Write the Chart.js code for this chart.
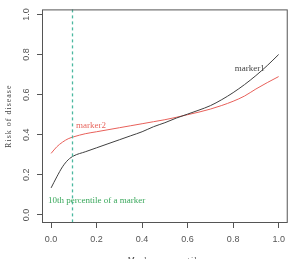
<!DOCTYPE html>
<html>
<head>
<meta charset="utf-8">
<script src="https://cdn.jsdelivr.net/npm/chart.js@4/dist/chart.umd.min.js"></script>
<style>
  body { margin: 0; background: #fff; }
  #wrap { width: 291px; height: 259px; }
</style>
</head>
<body>
<div id="wrap"><canvas id="chart" width="291" height="259"></canvas></div>
<script>
// marker percentile (x) and estimated risk for each marker
var pct = [0, 0.025, 0.05, 0.075, 0.1, 0.15, 0.2, 0.25, 0.3, 0.35, 0.4, 0.45, 0.5,
           0.55, 0.6, 0.65, 0.7, 0.75, 0.8, 0.85, 0.9, 0.95, 1.0];
var marker1 = [0.135, 0.19, 0.24, 0.275, 0.295, 0.315, 0.335, 0.355, 0.375, 0.395, 0.415, 0.44, 0.46,
               0.483, 0.503, 0.523, 0.545, 0.575, 0.61, 0.65, 0.695, 0.745, 0.80];
var marker2 = [0.307, 0.34, 0.363, 0.38, 0.39, 0.405, 0.415, 0.425, 0.435, 0.445, 0.455, 0.465, 0.475,
               0.487, 0.5, 0.513, 0.528, 0.546, 0.567, 0.593, 0.628, 0.66, 0.69];
var xTicks = [0, 0.2, 0.4, 0.6, 0.8, 1.0];
var yTicks = [0, 0.2, 0.4, 0.6, 0.8, 1.0];
var cutoff = 0.094; // 10th percentile
var notes = [
  { text: 'marker1', x: 0.873, y: 0.73, color: '#444444' },
  { text: 'marker2', x: 0.175, y: 0.443, color: '#e8675f' },
  { text: '10th percentile of a marker', x: 0.2, y: 0.07, color: '#3aa85c' }
];

function pts(ys) {
  return pct.map(function (p, i) { return { x: p, y: ys[i] }; });
}

var extras = {
  id: 'extras',
  afterDatasetsDraw: function (chart) {
    var ctx = chart.ctx, a = chart.chartArea;
    var xs = chart.scales.x, ys = chart.scales.y;
    ctx.save();
    // cutoff line
    ctx.strokeStyle = '#4bb8a0';
    ctx.lineWidth = 1.3;
    ctx.setLineDash([3, 3]);
    var cx = Math.round(xs.getPixelForValue(cutoff)) + 0.5;
    ctx.beginPath();
    ctx.moveTo(cx, a.top);
    ctx.lineTo(cx, a.bottom);
    ctx.stroke();
    ctx.setLineDash([]);
    // box
    ctx.strokeStyle = '#555';
    ctx.lineWidth = 1;
    ctx.strokeRect(a.left + 0.5, a.top + 0.5, a.right - a.left - 1, a.bottom - a.top - 1);
    // notes
    ctx.font = '9px "Liberation Serif"';
    ctx.textAlign = 'center';
    ctx.textBaseline = 'middle';
    notes.forEach(function (n) {
      ctx.fillStyle = n.color;
      ctx.fillText(n.text, xs.getPixelForValue(n.x), ys.getPixelForValue(n.y));
    });
    // axis titles
    ctx.fillStyle = '#444';
    ctx.font = '8px "Liberation Serif"';
    ctx.letterSpacing = '1px';
    ctx.save();
    ctx.translate(9, (a.top + a.bottom) / 2);
    ctx.rotate(-Math.PI / 2);
    ctx.fillText('Risk of disease', 0, 0);
    ctx.restore();
    ctx.textBaseline = 'alphabetic';
    ctx.fillText('Marker percentile', (a.left + a.right) / 2, 263);
    ctx.restore();
  }
};

new Chart('chart', {
  type: 'scatter',
  data: {
    datasets: [
      { label: 'marker1', data: pts(marker1), showLine: true, borderColor: '#404040',
        borderWidth: 1, pointRadius: 0, cubicInterpolationMode: 'monotone' },
      { label: 'marker2', data: pts(marker2), showLine: true, borderColor: '#e8605a',
        borderWidth: 1, pointRadius: 0, cubicInterpolationMode: 'monotone' }
    ]
  },
  options: {
    responsive: false,
    animation: false,
    layout: { padding: { top: 9, right: 3, left: 0, bottom: 0 } },
    plugins: { legend: { display: false }, tooltip: { enabled: false } },
    scales: {
      x: {
        type: 'linear', min: -0.04, max: 1.04,
        afterBuildTicks: function (s) { s.ticks = xTicks.map(function (v) { return { value: v }; }); },
        afterFit: function (s) { s.height = 36; },
        border: { display: false },
        grid: { drawOnChartArea: false, drawTicks: true, tickLength: 5, color: '#555' },
        ticks: { padding: 6, color: '#555', maxRotation: 0, autoSkip: false,
                 font: { family: '"Liberation Sans"', size: 9 },
                 callback: function (v) { return v.toFixed(1); } }
      },
      y: {
        type: 'linear', min: -0.04, max: 1.025,
        afterBuildTicks: function (s) { s.ticks = yTicks.map(function (v) { return { value: v }; }); },
        afterFit: function (s) { s.width = 42; },
        border: { display: false },
        grid: { drawOnChartArea: false, drawTicks: true, tickLength: 5, color: '#555' },
        ticks: { padding: 4, color: '#555', minRotation: 90, maxRotation: 90, crossAlign: 'center',
                 autoSkip: false, font: { family: '"Liberation Sans"', size: 9 },
                 callback: function (v) { return v.toFixed(1); } }
      }
    }
  },
  plugins: [extras]
});
</script>
</body>
</html>
